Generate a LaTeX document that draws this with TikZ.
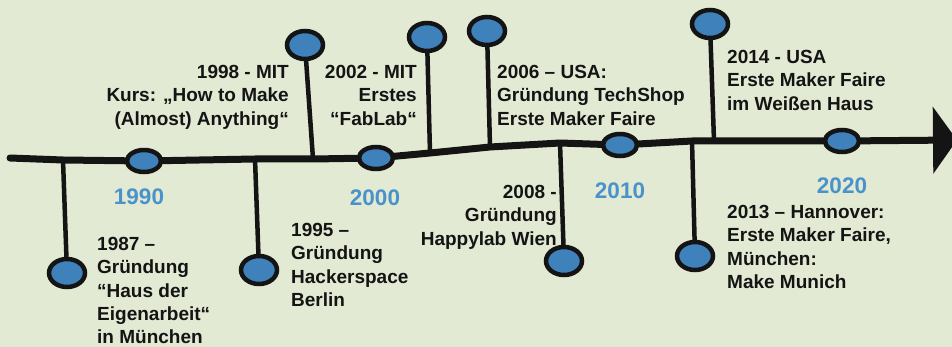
\documentclass[tikz,border=0pt]{standalone}
\usepackage{fontspec}
\setmainfont{Liberation Sans}
\usetikzlibrary{shapes.geometric, arrows.meta, positioning}
\definecolor{BgSoft}{HTML}{E2EAD3}
\definecolor{DotBlue}{HTML}{3F82BB}
\definecolor{YearBlue}{HTML}{4A92CA}
\definecolor{TxtPri}{HTML}{141414}

\tikzset{
  tline/.style={draw=TxtPri, line width=7pt, line join=round, line cap=round},
  stem/.style={draw=TxtPri, line width=4.5pt, line cap=round},
  dot/.style={ellipse, draw=TxtPri, fill=DotBlue, line width=4.5pt,
              minimum width=36pt, minimum height=28pt, inner sep=0pt},
  yeardot/.style={dot, minimum width=34pt, minimum height=22pt},
  event/.style={inner sep=0pt, text=TxtPri,
                font=\fontsize{19}{23.3}\selectfont\bfseries},
  year/.style={inner sep=0pt, text=YearBlue,
               font=\fontsize{22.5}{26}\selectfont\bfseries}
}

\begin{document}
\begin{tikzpicture}[x=1pt, y=-1pt]
  \useasboundingbox (0,0) rectangle (952,347);
  \fill[BgSoft] (0,0) rectangle (952,347);

  % points on the time line
  \coordinate (start) at (10,158);
  \coordinate (b1987) at (63,160);
  \coordinate (p1990) at (144,161);
  \coordinate (b1995) at (255,159);
  \coordinate (b1998) at (313,159);
  \coordinate (p2000) at (376,158);
  \coordinate (b2002) at (430,153);
  \coordinate (b2006) at (490,147);
  \coordinate (b2008) at (560,143);
  \coordinate (p2010) at (620,145);
  \coordinate (b2013) at (692,141);
  \coordinate (b2014) at (714,141);
  \coordinate (p2020) at (842,141);
  \coordinate (tip) at (957,140);

  % event dots
  \node[dot] (e1987) at (67,273) {};
  \node[dot] (e1995) at (259,270) {};
  \node[dot] (e1998) at (305,45) {};
  \node[dot] (e2002) at (427,37) {};
  \node[dot] (e2006) at (487,31) {};
  \node[dot] (e2008) at (564,261) {};
  \node[dot] (e2013) at (695,256) {};
  \node[dot] (e2014) at (710,24) {};

  \foreach \ev in {1987,1995,1998,2002,2006,2008,2013,2014}
    \draw[stem] (b\ev) -- (e\ev);

  \draw[tline, -{Triangle[length=24pt, width=66pt]}]
    (start) -- (b1987) -- (p1990) -- (b1995) -- (b1998) -- (p2000)
    -- (b2002) -- (b2006) -- (b2008) -- (p2010) -- (b2013) -- (b2014)
    -- (p2020) -- (tip);

  % decade dots
  \node[yeardot] (d1990) at (p1990) {};
  \node[yeardot] (d2000) at (p2000) {};
  \node[yeardot] (d2010) at (p2010) {};
  \node[yeardot] (d2020) at (p2020) {};

  \node[year] (y1990) at (139,197) {1990};
  \node[year] (y2000) at (375,198) {2000};
  \node[year] (y2010) at (620,191) {2010};
  \node[year] (y2020) at (842,186) {2020};

  % event texts
  \node[event, anchor=north west, align=left] (t1987) at (97,237)
    {1987 –\\Gründung\\“Haus der\\Eigenarbeit“\\in München};
  \node[event, anchor=north west, align=left] (t1995) at (291,223)
    {1995 –\\Gründung\\Hackerspace\\Berlin};
  \node[event, anchor=north east, align=right] (t1998) at (289,65)
    {1998 - MIT\\Kurs: „How to Make\\(Almost) Anything“};
  \node[event, anchor=north east, align=right] (t2002) at (417,65)
    {2002 - MIT\\Erstes\\“FabLab“};
  \node[event, anchor=north west, align=left] (t2006) at (497,65)
    {2006 – USA:\\Gründung TechShop\\Erste Maker Faire};
  \node[event, anchor=north east, align=right] (t2008) at (557,185)
    {2008 -\\Gründung\\Happylab Wien};
  \node[event, anchor=north west, align=left] (t2013) at (727,205)
    {2013 – Hannover:\\Erste Maker Faire,\\München:\\Make Munich};
  \node[event, anchor=north west, align=left] (t2014) at (727,50)
    {2014 - USA\\Erste Maker Faire\\im Weißen Haus};
\end{tikzpicture}
\end{document}
